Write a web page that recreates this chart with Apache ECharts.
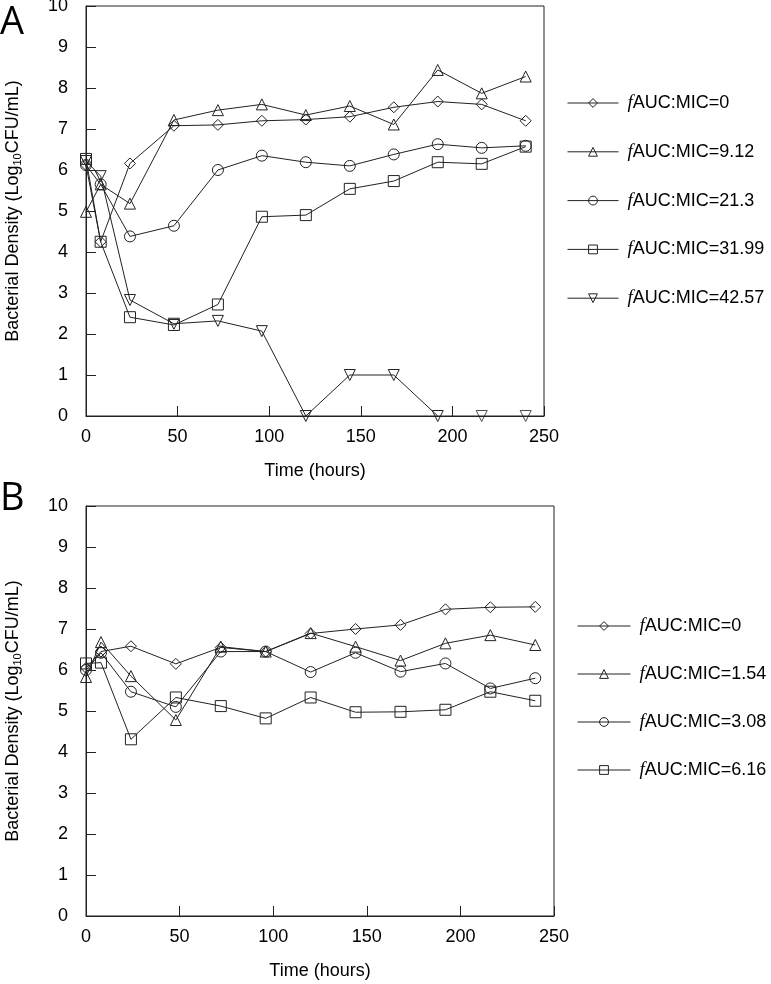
<!DOCTYPE html>
<html lang="en">
<head>
    <meta charset="utf-8">
    <script src="https://cdn.jsdelivr.net/npm/echarts@6/dist/echarts.min.js"></script>
    <style>
        html, body { margin: 0px; padding: 0px; background: #fff; }
        #chart { width: 771px; height: 984px; }
    </style>
</head>
<body>
    <div id="chart"></div>
    <script type="text/javascript">
        // sampling times (hours)
        var times = [0, 8, 24, 48, 72, 96, 120, 144, 168, 192, 216, 240];
        var xTicks = [0, 50, 100, 150, 200, 250];
        var yTicks = [0, 1, 2, 3, 4, 5, 6, 7, 8, 9, 10];

        // panel A
        var labelsA = ['0', '9.12', '21.3', '31.99', '42.57'];
        var a0    = [6.12, 4.25, 6.16, 7.08, 7.10, 7.20, 7.23, 7.30, 7.53, 7.67, 7.60, 7.20];
        var a912  = [4.98, 5.65, 5.18, 7.22, 7.46, 7.60, 7.34, 7.56, 7.11, 8.44, 7.87, 8.28];
        var a213  = [6.12, 5.65, 4.38, 4.64, 6.00, 6.35, 6.19, 6.10, 6.38, 6.63, 6.54, 6.59];
        var a3199 = [6.27, 4.25, 2.41, 2.22, 2.72, 4.86, 4.90, 5.54, 5.73, 6.19, 6.15, 6.57];
        var a4257 = [6.22, 5.85, 2.83, 2.25, 2.32, 2.07, 0, 1.0, 1.0, 0];
        // last two points of 42.57 are plotted without a connecting line
        var a4257Loose = [0, 0];

        // panel B
        var labelsB = ['0', '1.54', '3.08', '6.16'];
        var b0   = [6.05, 6.45, 6.58, 6.15, 6.55, 6.45, 6.89, 7.00, 7.10, 7.48, 7.53, 7.54];
        var b154 = [5.83, 6.68, 5.85, 4.78, 6.57, 6.45, 6.90, 6.57, 6.23, 6.65, 6.85, 6.61];
        var b308 = [6.00, 6.42, 5.47, 5.10, 6.45, 6.45, 5.95, 6.42, 5.96, 6.16, 5.55, 5.80];
        var b616 = [6.16, 6.18, 4.31, 5.33, 5.12, 4.82, 5.33, 4.97, 4.98, 5.03, 5.47, 5.25];

        var INK = '#222';
        var FONT = 'Liberation Sans';
        var shapes = [
            {symbol: 'diamond', rotate: 0},
            {symbol: 'triangle', rotate: 0},
            {symbol: 'circle', rotate: 0},
            {symbol: 'rect', rotate: 0},
            {symbol: 'triangle', rotate: 180}
        ];

        function pairs(xs, ys) {
            var out = [];
            for (var i = 0; i < ys.length; i++) out.push([xs[i], ys[i]]);
            return out;
        }

        function makeSeries(name, idx, data, shape, type) {
            return {
                name: name,
                type: type || 'line',
                xAxisIndex: idx,
                yAxisIndex: idx,
                data: data,
                symbol: shape.symbol,
                symbolRotate: shape.rotate,
                symbolSize: 11,
                clip: false,
                animation: false,
                lineStyle: {color: INK, width: 1},
                itemStyle: {color: 'transparent', borderColor: INK, borderWidth: 1},
                emphasis: {disabled: true}
            };
        }

        function makeX(idx) {
            return {
                type: 'value', gridIndex: idx, min: 0, max: 250, interval: 50,
                name: 'Time (hours)', nameLocation: 'middle', nameGap: 46,
                nameTextStyle: {fontSize: 18, fontFamily: FONT, color: '#000'},
                axisLine: {show: true, lineStyle: {color: INK, width: 1}},
                axisTick: {show: true, inside: true, length: 10, lineStyle: {color: INK}},
                axisLabel: {fontSize: 18, fontFamily: FONT, color: '#000', margin: 12,
                    formatter: function (v) { return xTicks.indexOf(v) >= 0 ? String(v) : ''; }},
                splitLine: {show: false}
            };
        }

        function makeY(idx) {
            return {
                type: 'value', gridIndex: idx, min: 0, max: 10, interval: 1,
                name: 'Bacterial Density (Log{sub|10}CFU/mL)', nameLocation: 'middle', nameGap: 63,
                nameTextStyle: {fontSize: 18, fontFamily: FONT, color: '#000', lineHeight: 20,
                    rich: {sub: {fontSize: 11, fontFamily: FONT, color: '#000', lineHeight: 11, verticalAlign: 'bottom'}}},
                axisLine: {show: true, lineStyle: {color: INK, width: 1}},
                axisTick: {show: true, inside: true, length: 10, lineStyle: {color: INK}},
                axisLabel: {fontSize: 18, fontFamily: FONT, color: '#000', margin: 18,
                    formatter: function (v) { return yTicks.indexOf(v) >= 0 ? String(v) : ''; }},
                splitLine: {show: false}
            };
        }

        function makeLegend(names, left, top, gap, itemWidth) {
            return {
                orient: 'vertical', left: left, top: top, padding: 0,
                itemGap: gap, itemWidth: itemWidth, itemHeight: 11,
                data: names,
                selectedMode: false,
                itemStyle: {color: 'transparent', borderColor: INK, borderWidth: 1},
                lineStyle: {color: INK, width: 1},
                formatter: function (n) { return '{f|f}AUC:MIC=' + n.split('|')[1]; },
                textStyle: {fontSize: 18, fontFamily: FONT, color: '#000', lineHeight: 22, padding: [0, 0, 0, 4],
                    rich: {f: {fontSize: 19, fontFamily: 'Liberation Serif', fontStyle: 'italic', color: '#000', lineHeight: 22}}}
            };
        }

        var series = [];
        var seriesA = [a0, a912, a213, a3199, a4257];
        var seriesB = [b0, b154, b308, b616];
        var namesA = [], namesB = [];
        for (var i = 0; i < seriesA.length; i++) {
            namesA.push('A|' + labelsA[i]);
            series.push(makeSeries('A|' + labelsA[i], 0, pairs(times, seriesA[i]), shapes[i]));
        }
        series.push(makeSeries('A|loose', 0, pairs(times.slice(10), a4257Loose), shapes[4], 'scatter'));
        for (var j = 0; j < seriesB.length; j++) {
            namesB.push('B|' + labelsB[j]);
            series.push(makeSeries('B|' + labelsB[j], 1, pairs(times, seriesB[j]), shapes[j]));
        }

        var myChart = echarts.init(document.getElementById('chart'));
        var option = {
            backgroundColor: '#fff',
            animation: false,
            grid: [
                {left: 86, top: 6, width: 458, height: 410, outerBoundsMode: 'none', containLabel: false,
                    show: true, borderColor: INK, borderWidth: 1, backgroundColor: 'transparent'},
                {left: 86, top: 506, width: 468, height: 410, outerBoundsMode: 'none', containLabel: false,
                    show: true, borderColor: INK, borderWidth: 1, backgroundColor: 'transparent'}
            ],
            xAxis: [makeX(0), makeX(1)],
            yAxis: [makeY(0), makeY(1)],
            legend: [
                makeLegend(namesA, 567, 92, 26.8, 51),
                makeLegend(namesB, 577, 615, 26, 53)
            ],
            graphic: [
                {type: 'text', left: 0, top: 4, style: {text: 'A', fontSize: 38, fontFamily: 'Open Sans', fill: '#000'}},
                {type: 'text', left: 0, top: 480, style: {text: 'B', fontSize: 38, fontFamily: 'Open Sans', fill: '#000'}}
            ],
            series: series
        };
        myChart.setOption(option);
    </script>
</body>
</html>
